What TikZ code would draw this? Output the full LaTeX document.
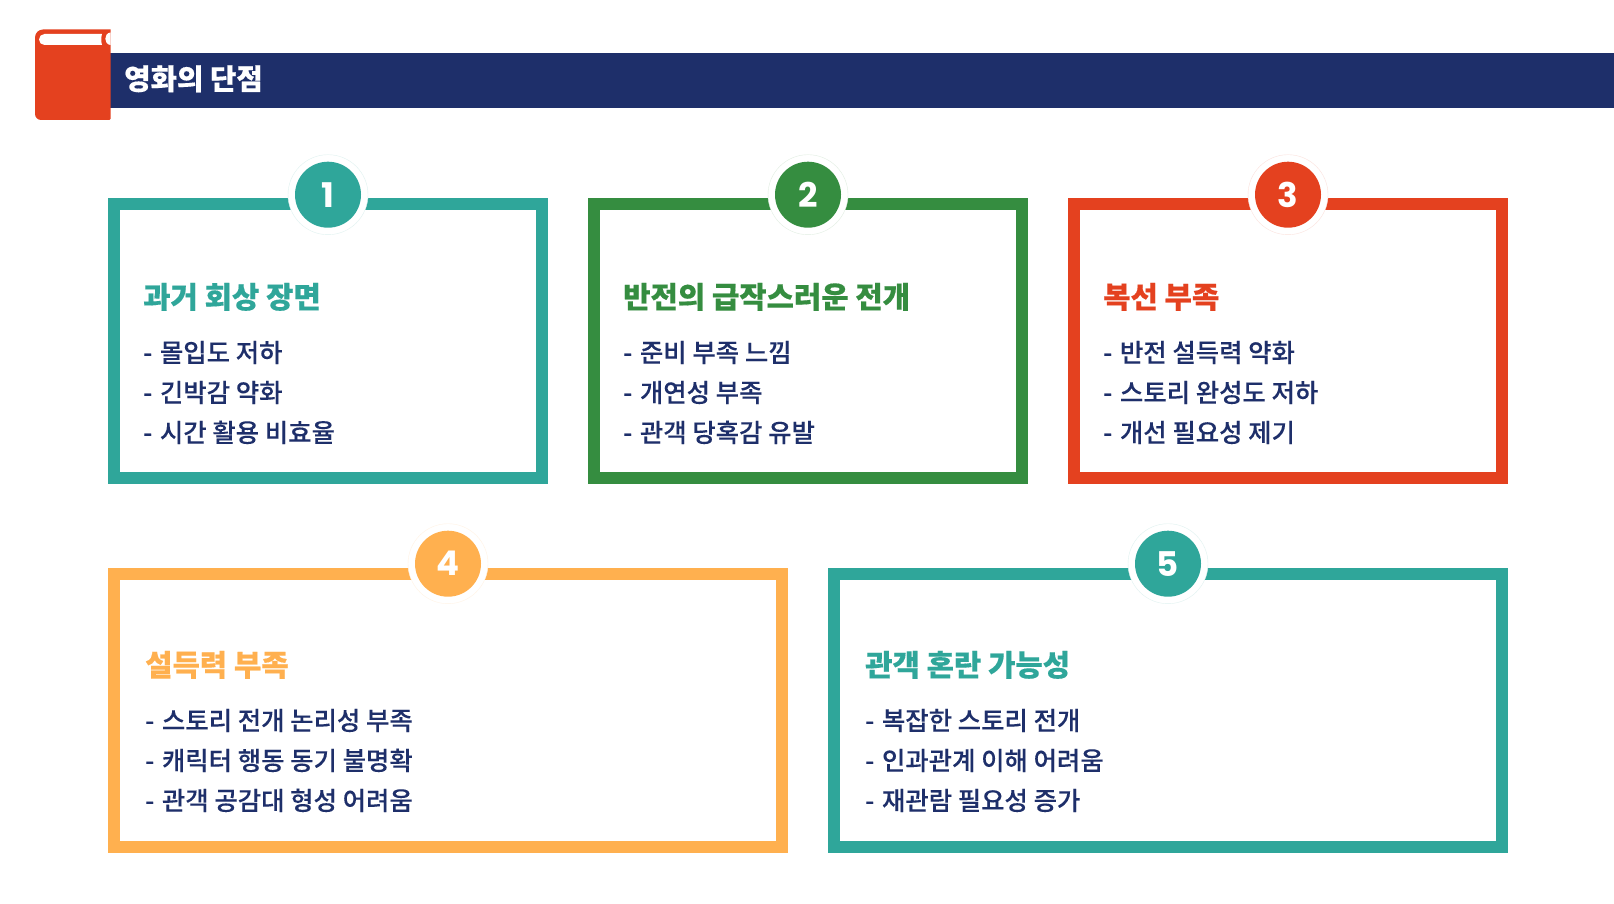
\documentclass[tikz,border=0pt]{standalone}
\usepackage{fontspec}
\setmainfont{Noto Sans CJK KR}
\newfontfamily\itemfont[FakeBold=0.08]{Noto Sans CJK KR Medium}
\newfontfamily\headfont[FakeBold=0.35]{Noto Sans CJK KR Black}
\newfontfamily\numfont{Poppins}
\definecolor{navy}{HTML}{1E2F6A}
\definecolor{teal1}{HTML}{2FA69A}
\definecolor{green1}{HTML}{358D40}
\definecolor{red1}{HTML}{E4411F}
\definecolor{orange1}{HTML}{FFB04F}
\tikzset{
 x=1pt,y=-1pt,
 card/.style={draw=#1,line width=12.4pt,fill=white},
 halo/.style={circle,draw=#1!15,line width=.4pt,fill=white,minimum size=80pt,inner sep=0pt},
 badge/.style={circle,fill=#1,text=white,minimum size=66pt,inner sep=0pt,font=\numfont\bfseries\fontsize{34}{34}\selectfont},
 heading/.style={anchor=base west,text=#1,inner sep=0pt,font=\headfont\fontsize{29.7}{30}\selectfont},
 item/.style={anchor=base west,text=navy,inner sep=0pt,font=\itemfont\fontsize{25.4}{26}\selectfont},
}
\newcommand{\cardbox}[8]{%
 \path[card=#2] (#3+6.2,#4+6.2) rectangle (#5-6.2,#6-6.2);
 \node[halo=#2] (h#1) at ({(#3+#5)/2},#8) {};
 \node[badge=#2] (b#1) at (h#1.center) {#7};
}
\newcommand{\texts}[7]{%
 \node[heading=#3] at (#1,#2+110) {#4};
 \node[item] at (#1,#2+164) {-\kern2pt{} #5};
 \node[item] at (#1,#2+204) {-\kern2pt{} #6};
 \node[item] at (#1,#2+244) {-\kern2pt{} #7};
}
\begin{document}
\begin{tikzpicture}
\useasboundingbox (0,0) rectangle (1614,904);
\fill[white] (0,0) rectangle (1614,904);
% banner
\fill[navy] (100,52.7) rectangle (1614,107.7);
\node[anchor=base west,text=white,inner sep=0pt,font=\headfont\fontsize{28.7}{29}\selectfont] (title) at (124,89.5) {영화의 단점};
% book
\fill[red1] (110.5,29.5) [rounded corners=8pt] -- (35,29.5) [rounded corners=6pt] -- (35,120) [rounded corners=1pt] -- (110.5,120) -- (110.5,45) [sharp corners] -- (110.5,29.5) -- cycle;
\fill[white] (102,34) [rounded corners=5.5pt] -- (39,34) -- (39,45) [sharp corners] -- (102,45) .. controls (101,41.5) and (101,37.5) .. (102,34) -- cycle;
\fill[white] (110.6,32.5) .. controls (103.5,33) and (103.5,44.5) .. (110.6,45) -- cycle;
% cards
\cardbox{a}{teal1}{108}{198}{548}{484}{1}{194.7}
\cardbox{b}{green1}{588}{198}{1028}{484}{2}{194.7}
\cardbox{c}{red1}{1068}{198}{1508}{484}{3}{194.7}
\cardbox{d}{orange1}{108}{568}{788}{853}{4}{563.7}
\cardbox{e}{teal1}{828}{568}{1508}{853}{5}{563.7}
% text
\texts{143}{198}{teal1}{과거 회상 장면}{몰입도 저하}{긴박감 약화}{시간 활용 비효율}
\texts{623}{198}{green1}{반전의 급작스러운 전개}{준비 부족 느낌}{개연성 부족}{관객 당혹감 유발}
\texts{1103}{198}{red1}{복선 부족}{반전 설득력 약화}{스토리 완성도 저하}{개선 필요성 제기}
\texts{145}{566}{orange1}{설득력 부족}{스토리 전개 논리성 부족}{캐릭터 행동 동기 불명확}{관객 공감대 형성 어려움}
\texts{865}{566}{teal1}{관객 혼란 가능성}{복잡한 스토리 전개}{인과관계 이해 어려움}{재관람 필요성 증가}
\end{tikzpicture}
\end{document}
